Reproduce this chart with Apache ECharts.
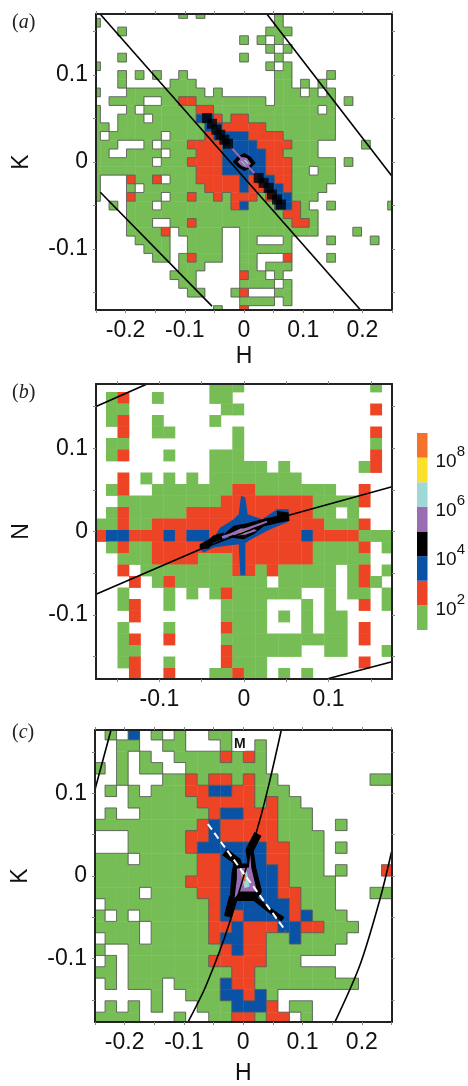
<!DOCTYPE html>
<html><head><meta charset="utf-8">
<style>html,body{margin:0;padding:0;background:#fff}#c{width:468px;height:1086px}</style>
<script src="https://cdn.jsdelivr.net/npm/echarts@6/dist/echarts.min.js"></script>
</head><body><div id="c"></div>
<script>
// level: . none, 1 green, 2 red, 3 blue, 4 black, 5 purple, 6 cyan, 7 yellow, 8 orange
var levelColors = ['#ffffff','#76bd56','#ee4426','#0a52a6','#000000','#9a6cb2','#9ed8d8','#fde02a','#f4722c'];
var barLevels = [1,2,3,4,5,6,7,8];
var barExponentLabels = [2,4,6,8];

var gridA = [
"..... ..... 1.1.. ..... .1... ..... .....",
"1.... ..... ..... ..... .1... ..... .....",
"...1. ..... ..... ..... 111.. ..... .....",
"..... ..... ..... ..1.1 .1... ..... .....",
"..... ..... ..... ..... 1.1.. ..... .....",
"...1. ..... ..... ..1.. .1... ..... .....",
"1.... ..... ..... ..... 1.1.. ..... .....",
"...1. 1.1.. 1.... ..... .11.. ..1.. .....",
"...1. ....1 11... ..... .11.1 .1... .....",
"1...1 11111 111.1 ..... .111. 1.1.. .....",
"..111 1..11 22111 11111 .1111 111.1 .....",
"1...1 .1111 11221 11111 11111 1.1.. .....",
"1..11 1.111 11332 12211 11111 111.. .....",
"11.11 11111 11133 22222 11111 111.. .....",
"1.111 111.1 11123 33322 22111 111.. .....",
"111.. .1.11 12222 33332 22211 1.... .1...",
"11..1 111.1 11222 33333 22111 1.... .....",
"11111 11.11 12222 33333 22211 111.1 .....",
"11111 11111 11222 33333 22211 .11.. .....",
"1...2 112.1 11222 22323 32211 111.. .....",
"1...1 .1111 11122 22322 33211 11... .....",
"1...2 111.1 12112 12221 23311 1.... .....",
"..1.1 11.11 11111 12311 13321 ..1.. ....1",
"....1 11111 11111 11111 11221 1.... .....",
"....1 11..1 12111 11111 11122 1.... .....",
"....1 1112. 11111 ..111 11111 1.... 1....",
"..... 1111. .1111 ..11. ..1.. ..1.. ..1..",
"..... .111. .1111 ..111 111.. ..... .....",
"..... ..11. 12111 ..11. ..2.. ..1.. .....",
"..... ..... 111.. ..11. 111.. ..... .....",
"..... ....1 11... ..211 .1... ..... .....",
"..... ..... 11... ..111 1.1.. ..... .....",
"..... ..... .11.. .12.. .11.. ..... .....",
"..... ..... ..... ..111 1.1.. ..... .....",
"..... ..... ....1 ..2.. ..... ..... ....."
];
var gridB = [
"..... ..... 111.. ..... ....1 .",
".12.. 1.... 11... ..... ..... .",
".11.. ..... .11.. ..... ....2 .",
".12.. 1.... 1.... ..... ..... .",
"..2.. 11... ..1.. ..... ....2 .",
".11.. ..... ..1.. ..... ....1 .",
".12.. .1... 111.. ..... ....2 .",
"..... ..... 11111 .1... ...12 .",
"..2.1 .1.1. 11111 111.. ..... .",
".12.. 11111 11221 11111 1..2. .",
"..111 11111 12222 22221 1112. .",
".1211 11122 22222 22221 1.1.. .",
"11211 22222 22222 22222 1112. .",
"23322 23233 22222 22232 22211 1",
".1211 22222 22222 22221 1112. 1",
"..111 22221 11222 22221 1111. .",
"..2.1 11111 11221 21111 1.12. 1",
"...2. 12111 11111 .1111 1.121 .",
"..1.. .1.1. 12111 111.. 1.11. 1",
"..12. .1... .1111 ...1. 1..2. 1",
"...2. ..... .1111 .1.1. 11... .",
"..1.. .1... .2111 ...1. 11.2. .",
"..12. .2... .1111 11111 11.2. .",
"..11. ..... .2111 111.. 11... 1",
"..12. .1... .2111 ..... ...2. .",
"...2. .2... 11211 .1.1. ..... ."
];
var gridC = [
".1.3. 1.1.. 11... ..... ..... .",
"..11. .11.. .1..1 ..... ..... .",
"..1.1 ..111 12121 ..... ..... .",
"1.1.1 1..11 11111 ..... ..... .",
"..1.. .1121 22121 1.... ....1 1",
".1.1. 11122 33221 11... ..... .",
"...11 11112 22221 211.. ..... .",
".1..1 11111 23322 2111. ..... .",
"11111 11112 32222 2111. .1... .",
"...11 11122 32222 21111 ..... .",
"...11 11123 33333 22111 .1... .",
"111.1 11112 23333 22111 ..... .",
"11111 11112 23333 32111 .1... 2",
"11111 11122 23333 32111 1.... .",
"1111. 11112 23333 32211 1...1 1",
".1111 11111 23333 33211 1.... .",
"1.1.1 11111 23233 33231 11... .",
"1111. 11111 22322 23322 111.. .",
".111. 11111 23322 11311 11... .",
"1..11 11111 12322 11111 1.... .",
".1.11 11111 22222 111.. ..... .",
"11.11 11111 11221 11111 1.... .",
".1.11 1.111 13221 11111 111.. .",
"..... 1..11 13323 1.... ..... .",
".1.1. 1...1 11333 2.11. ..... .",
"1111. ..1.. 11221 22.1. ..... ."
];

var ticksAH = [-0.2,-0.1,0,0.1,0.2], ticksAK = [-0.1,0,0.1];
var ticksBH = [-0.1,0,0.1], ticksBN = [-0.1,0,0.1];
var minorAH = [-0.25,-0.2,-0.15,-0.1,-0.05,0,0.05,0.1,0.15,0.2,0.25];
var minorK = [-0.15,-0.1,-0.05,0,0.05,0.1,0.15];

var linesA = [
 [[-0.2427,0.1698],[0.1965,-0.1698]],
 [[0.0389,0.1698],[0.25,-0.0164]],
 [[-0.2427,-0.0347],[-0.0541,-0.1656]]
];
var linesB = [
 [[-0.175,0.15],[-0.1126,0.178]],
 [[-0.175,-0.0752],[-0.0516,-0.0212],[0.0508,0.0188],[0.175,0.0536]],
 [[0.1,-0.1764],[0.175,-0.1564]]
];
var linesC = [
 [[-0.25,0.1048],[-0.223,0.177]],
 [[-0.0935,-0.1773],[-0.0625,-0.1323],[-0.0231,-0.0566],[0.0276,0.0669],[0.0445,0.1147],[0.0642,0.1769]],
 [[0.1543,-0.1773],[0.1965,-0.1084],[0.2303,-0.0287],[0.25,0.0291]]
];
var ridgeA = [[-0.0625,0.0504],[-0.0541,0.0439],[-0.0467,0.037],[-0.04,0.0313],[-0.0332,0.0256],[-0.027,0.021],
 [0.0248,-0.0183],[0.0332,-0.024],[0.0417,-0.0298],[0.0473,-0.0374],[0.0557,-0.0431],[0.0625,-0.0489]];

var shapesA = [
 {level:4,pts:[[-0.0191,0],[-0.0107,0.0065],[0.0006,0.0103],[0.0118,0.0057],[0.0197,-0.0011],[0.0107,-0.0073],[0.0006,-0.0103],[-0.0107,-0.0057]]},
 {level:5,pts:[[-0.0107,0],[-0.0034,0.0057],[0.0051,0.0046],[0.0118,-0.0019],[0.0051,-0.0069],[-0.0034,-0.005]]},
 {level:6,pts:[[-0.0051,0.0008],[0.0023,0.0027],[0.0079,-0.0019],[0.0023,-0.0042]]}
];
var shapesB = [
 {level:3,pts:[[-0.0524,-0.0212],[-0.0496,-0.0152],[-0.0358,-0.0072],[-0.028,0.0048],[-0.0122,0.0148],[-0.0063,0.0208],[-0.0035,0.0428],[0.0016,0.0408],[0.0043,0.0208],[0.0213,0.0148],[0.039,0.0268],[0.0528,0.0268],[0.0528,0.0116],[0.0311,0.0028],[0.0075,-0.01],[0.0016,-0.014],[0.0016,-0.0524],[-0.0043,-0.0524],[-0.0063,-0.0152],[-0.0358,-0.0192],[-0.0476,-0.0252]]},
 {level:4,pts:[[-0.0524,-0.0152],[-0.0417,-0.0092],[-0.0358,-0.0044],[-0.024,-0.0012],[-0.024,-0.0092],[-0.0358,-0.0132],[-0.0417,-0.0204],[-0.0524,-0.0212]]},
 {level:4,pts:[[-0.024,-0.0032],[-0.0122,0.0068],[0.0035,0.01],[0.0213,0.0148],[0.039,0.0188],[0.039,0.0248],[0.0528,0.0228],[0.0539,0.0128],[0.039,0.01],[0.0232,0.006],[0.0114,-0.0032],[-0.0004,-0.0092],[-0.0161,-0.0072]]},
 {level:5,pts:[[-0.0161,-0.0024],[-0.0043,0.0036],[0.0114,0.0036],[0.0154,0.0008],[0.0016,-0.004],[-0.0102,-0.0052]]},
 {level:6,pts:[[-0.0122,-0.0012],[-0.0024,0.0028],[0.0094,0.0028],[0.0016,-0.0024]]},
 {level:7,pts:[[-0.0063,-0.0012],[0.0016,0.0028],[0.0075,0.002],[-0.0004,-0.002]]}
];
var shapesC = [
 {level:4,pts:[[-0.0175,0.0151],[0.0107,0.0151],[0.022,0.0072],[0.0304,-0.0187],[0.022,-0.0267],[-0.0146,-0.0307],[-0.0203,-0.0207],[-0.0175,-0.0008]]},
 {level:5,pts:[[-0.0107,0.0092],[0.0096,0.0104],[0.0118,0.0271],[0.0135,0.0104],[0.0231,-0.0187],[-0.0051,-0.0187],[-0.0146,-0.0267],[-0.0107,-0.0028]]},
 {level:6,pts:[[-0.0051,0.0072],[0.0062,0.0052],[0.0107,-0.0127],[0.0023,-0.0147]]},
 {level:8,pts:[[-0.0017,0.0032],[0.0039,0.0012],[0.0039,-0.0068],[-0.0006,-0.0068]]}
];
var traces = {
 A:[{level:5,w:2,pts:[[-0.0231,0.0179],[0.022,-0.0164]]}],
 B:[{level:5,w:2.5,pts:[[-0.026,-0.0072],[0.0272,0.0116]]}],
 C:[{level:4,w:8,pts:[[0.0248,0.051],[0.0107,0.0311],[0.0152,0.0092],[0.0248,-0.0187],[0.0163,-0.0255],[-0.0175,-0.0255],[-0.0259,-0.0494]]},
    {level:4,w:8,pts:[[-0.0315,0.0291],[-0.009,0.0171],[-0.013,0.0032],[-0.0158,-0.0227]]},
    {level:4,w:5,pts:[[0.0163,-0.0255],[0.0389,-0.0386],[0.067,-0.0526]]}]
};
var dashC = [[-0.0597,0.063],[0.0715,-0.0665]];

var panels = [
 {rows:gridA, left:-0.25-0.5/68, top:0.175, dx:0.5/34, dy:0.01, xr:0.25, yr:0.17, rect:[96,14,296,296], nameGap:35,
  xt:ticksAH, xm:minorAH, yt:ticksAK, ym:minorK, xname:'H', yname:'K', outline:'#5a5a5a', lines:linesA, shapes:shapesA, tr:traces.A},
 {rows:gridB, left:-0.1768, top:0.1812, dx:0.013583, dy:0.0138, xr:0.175, yr:0.177, rect:[96,384,296,295], nameGap:40,
  xt:ticksBH, xm:[-0.15,-0.1,-0.05,0,0.05,0.1,0.15], yt:ticksBN, ym:minorK, xname:'', yname:'N', outline:null, lines:linesB, shapes:shapesB, tr:traces.B},
 {rows:gridC, left:-0.2525, top:0.17869, dx:0.019426, dy:0.013745, xr:0.25, yr:0.1769, rect:[95,730,296.5,296], nameGap:40,
  xt:ticksAH, xm:minorAH, yt:ticksAK, ym:minorK, xname:'H', yname:'K', outline:'#5a5a5a', lines:linesC, shapes:shapesC, tr:traces.C}
];
panels.forEach(function(p){ p.g = p.rows.map(function(r){return r.replace(/ /g,'');}); });
function lv(p,r,c){
  if(r<0||r>=p.g.length||c<0||c>=p.g[r].length) return -1;
  var ch=p.g[r][c]; return ch==='.'?0:+ch;
}
var FONT='"Liberation Sans",Arial,sans-serif';
var grids=[],xAxes=[],yAxes=[],series=[];

function fmt(v){ return String(Math.round(v*10)/10); }
panels.forEach(function(p,gi){
  grids.push({left:p.rect[0],top:p.rect[1],width:p.rect[2],height:p.rect[3]});
  var lineSt={show:true,onZero:false,lineStyle:{color:'#222',width:2}};
  var tick=function(v){return {show:true,customValues:v,length:3,lineStyle:{color:'#888',width:1}};};
  xAxes.push({type:'value',gridIndex:gi,min:-p.xr,max:p.xr,position:'bottom',z:10,splitLine:{show:false},axisLine:lineSt,axisTick:tick(p.xm),
    name:p.xname,nameLocation:'middle',nameGap:p.nameGap,nameTextStyle:{fontFamily:FONT,fontSize:23,color:'#111'},
    axisLabel:{customValues:p.xt,formatter:fmt,margin:9,fontFamily:FONT,fontSize:23,color:'#111'}});
  xAxes.push({type:'value',gridIndex:gi,min:-p.xr,max:p.xr,position:'top',z:10,splitLine:{show:false},axisLine:lineSt,axisTick:tick(p.xm),axisLabel:{show:false}});
  yAxes.push({type:'value',gridIndex:gi,min:-p.yr,max:p.yr,position:'left',z:10,splitLine:{show:false},axisLine:lineSt,axisTick:tick(p.ym),
    name:p.yname,nameLocation:'middle',nameGap:63,nameTextStyle:{fontFamily:FONT,fontSize:23,color:'#111'},
    axisLabel:{customValues:p.yt,formatter:fmt,margin:8,fontFamily:FONT,fontSize:23,color:'#111'}});
  yAxes.push({type:'value',gridIndex:gi,min:-p.yr,max:p.yr,position:'right',z:10,splitLine:{show:false},axisLine:lineSt,axisTick:tick(p.ym),axisLabel:{show:false}});

  var cells=[];
  p.g.forEach(function(s,r){ for(var c=0;c<s.length;c++){ var l=lv(p,r,c); if(l>0) cells.push([p.left+c*p.dx,p.top-r*p.dy,l,r,c]); }});
  series.push({type:'custom',xAxisIndex:gi*2,yAxisIndex:gi*2,z:2,silent:true,animation:false,data:cells,encode:{x:0,y:1},
    renderItem:function(params,api){
      var a=api.coord([api.value(0),api.value(1)]), b=api.coord([api.value(0)+p.dx,api.value(1)-p.dy]);
      var rc=echarts.graphic.clipRectByRect({x:a[0],y:a[1],width:b[0]-a[0]+0.4,height:b[1]-a[1]+0.4},params.coordSys);
      if(!rc) return null;
      return {type:'rect',shape:rc,style:{fill:levelColors[api.value(2)]}};
    }});
  if(p.outline){
    series.push({type:'custom',xAxisIndex:gi*2,yAxisIndex:gi*2,z:3,silent:true,animation:false,data:cells,encode:{x:0,y:1},
      renderItem:function(params,api){
        var a=api.coord([api.value(0),api.value(1)]), b=api.coord([api.value(0)+p.dx,api.value(1)-p.dy]);
        var rc=echarts.graphic.clipRectByRect({x:a[0],y:a[1],width:b[0]-a[0],height:b[1]-a[1]},params.coordSys);
        if(!rc) return null;
        var l=api.value(2),r=api.value(3),c=api.value(4),kids=[];
        var x1=rc.x,y1=rc.y,x2=rc.x+rc.width,y2=rc.y+rc.height;
        function e(nb,sx,sy,ex,ey){ if(nb>=0&&nb<l) kids.push({type:'line',shape:{x1:sx,y1:sy,x2:ex,y2:ey},style:{stroke:p.outline,lineWidth:1,opacity:0.85}}); }
        e(lv(p,r-1,c),x1,y1,x2,y1); e(lv(p,r+1,c),x1,y2,x2,y2); e(lv(p,r,c-1),x1,y1,x1,y2); e(lv(p,r,c+1),x2,y1,x2,y2);
        return {type:'group',children:kids};
      }});
  }
  p.tr.forEach(function(t){
    series.push({type:'line',xAxisIndex:gi*2,yAxisIndex:gi*2,z:gi===2?3.5:5,silent:true,animation:false,showSymbol:false,data:t.pts,lineStyle:{color:levelColors[t.level],width:t.w}});
  });
  series.push({type:'custom',xAxisIndex:gi*2,yAxisIndex:gi*2,z:4,silent:true,animation:false,
    data:p.shapes.map(function(s,i){return [s.pts[0][0],s.pts[0][1],i];}),encode:{x:0,y:1},
    renderItem:function(params,api){
      var s=p.shapes[api.value(2)];
      return {type:'polygon',shape:{points:s.pts.map(function(q){return api.coord(q);})},style:{fill:levelColors[s.level]}};
    }});
  p.lines.forEach(function(pts){
    series.push({type:'line',xAxisIndex:gi*2,yAxisIndex:gi*2,z:6,silent:true,animation:false,showSymbol:false,clip:true,smooth:gi===2?0.3:false,data:pts,lineStyle:{color:'#000',width:1.6}});
  });
});
series.push({type:'scatter',xAxisIndex:0,yAxisIndex:0,z:5,silent:true,animation:false,data:ridgeA,symbol:'rect',symbolSize:10,itemStyle:{color:'#000'}});
series.push({type:'line',xAxisIndex:4,yAxisIndex:4,z:7,silent:true,animation:false,showSymbol:false,data:dashC,lineStyle:{color:'#fff',width:2,type:[7,4]}});

// colour bar
grids.push({left:417,top:433,width:13,height:197});
xAxes.push({type:'value',gridIndex:3,min:0,max:1,show:false});
yAxes.push({type:'value',gridIndex:3,min:1,max:9,interval:1,position:'right',splitLine:{show:false},axisLine:{show:false},axisTick:{show:false},
  axisLabel:{margin:8,formatter:function(v){return barExponentLabels.indexOf(v)>=0?'{b|10}{s|'+v+'}':'';},
    rich:{b:{fontFamily:FONT,fontSize:19,color:'#111',verticalAlign:'bottom'},s:{fontFamily:FONT,fontSize:15,color:'#111',padding:[0,0,12,0]}}}});
series.push({type:'custom',xAxisIndex:6,yAxisIndex:6,silent:true,animation:false,data:barLevels.map(function(l){return [0,l];}),encode:{x:0,y:1},
  renderItem:function(params,api){
    var a=api.coord([0,api.value(1)+1]),b=api.coord([1,api.value(1)]);
    return {type:'rect',shape:{x:a[0],y:a[1],width:b[0]-a[0],height:b[1]-a[1]},style:{fill:levelColors[api.value(1)]}};
  }});

function tag(letter,y){
  return {type:'text',left:12,top:y-12,z:20,style:{rich:{n:{fontFamily:'"Liberation Serif",serif',fontSize:20,fill:'#222'},i:{fontFamily:'"Liberation Serif",serif',fontStyle:'italic',fontSize:20,fill:'#222'}},
    text:'{n|(}{i|'+letter+'}{n|)}'}};
}
var chart=echarts.init(document.getElementById('c'),null,{renderer:'canvas',width:468,height:1086});
chart.setOption({animation:false,backgroundColor:'#fff',grid:grids,xAxis:xAxes,yAxis:yAxes,series:series,
  graphic:[tag('a',25),tag('b',395),tag('c',735),
   {type:'text',left:234,top:737,z:20,style:{text:'M',fontFamily:FONT,fontWeight:'bold',fontSize:14,fill:'#111',backgroundColor:'#fff'}}]});
</script></body></html>
